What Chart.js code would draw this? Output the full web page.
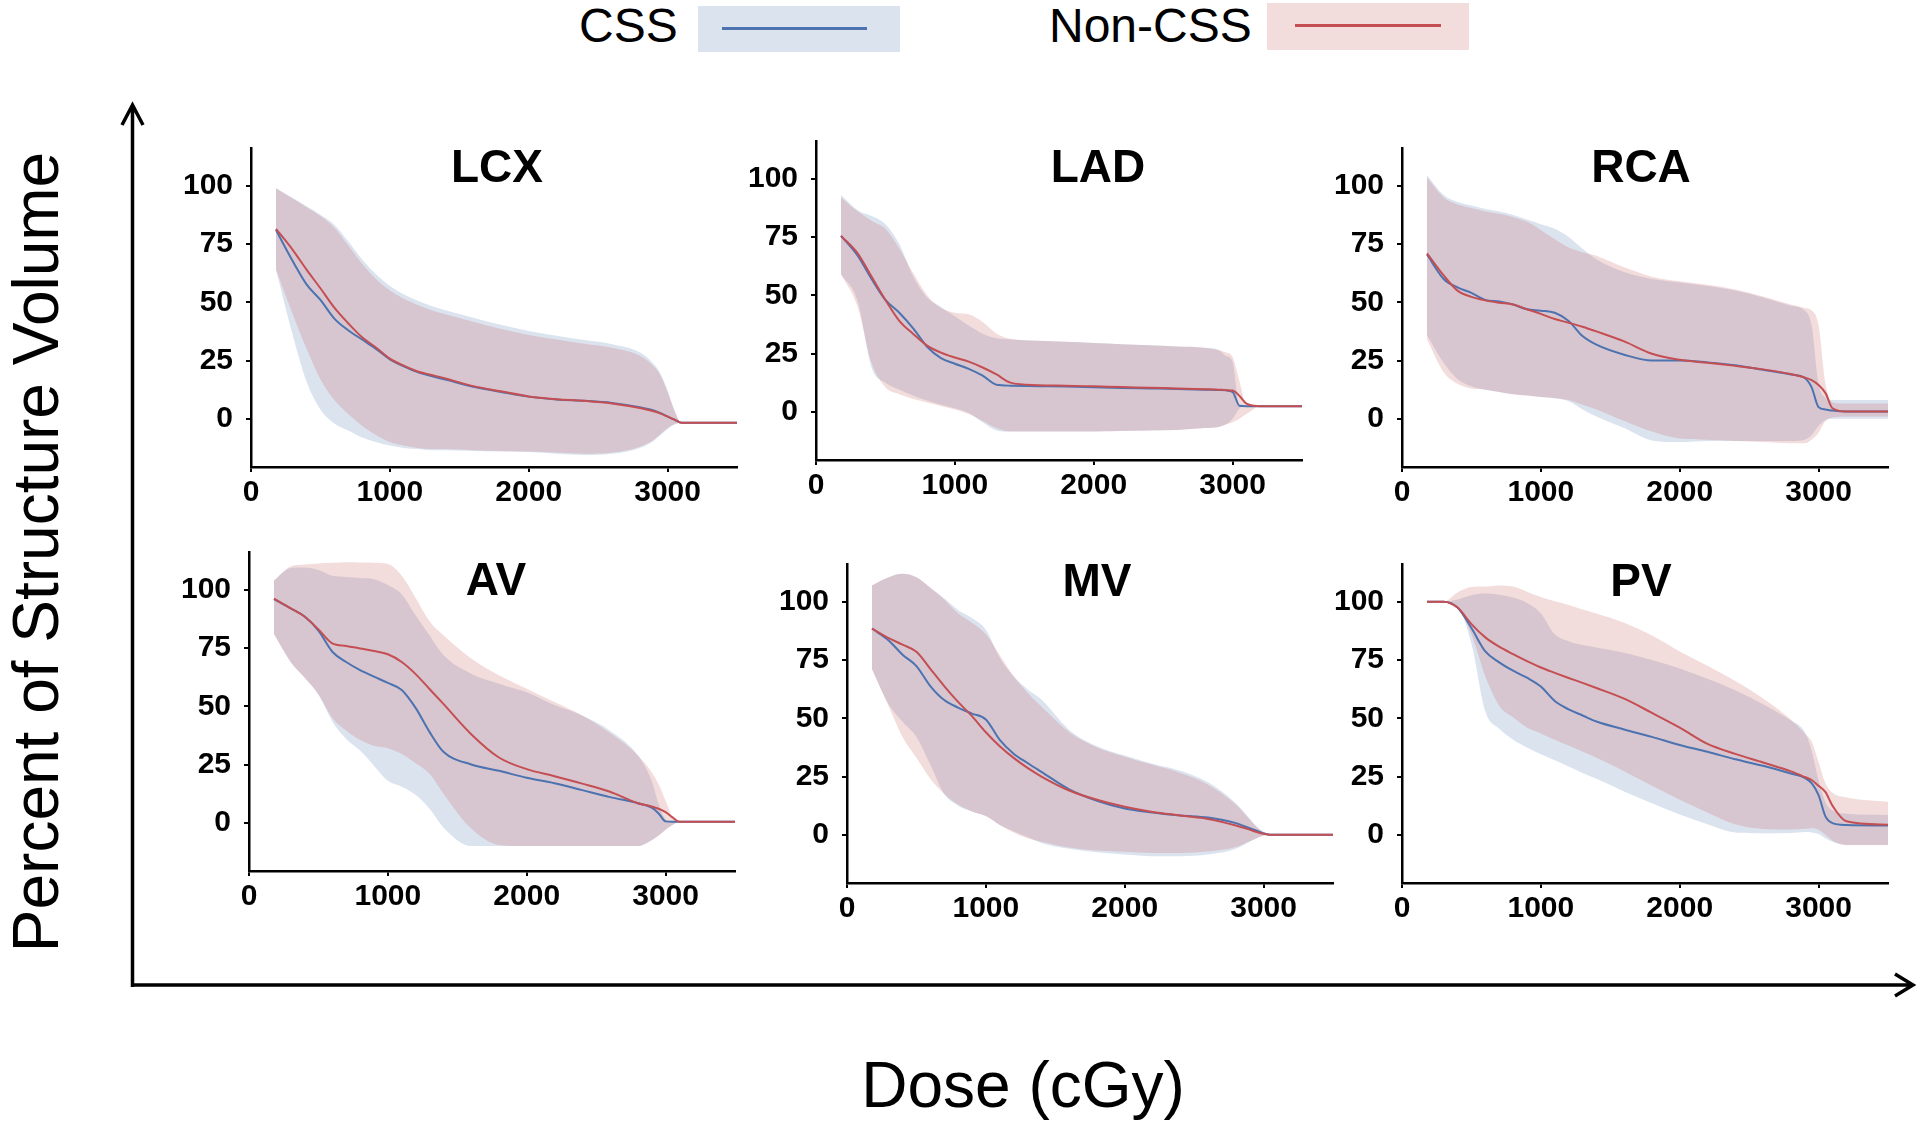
<!DOCTYPE html>
<html>
<head>
<meta charset="utf-8">
<script src="https://cdn.jsdelivr.net/npm/chart.js@4.4.0/dist/chart.umd.min.js"></script>
<style>
  body { margin: 0; width: 1920px; height: 1130px; background: #fff; position: relative; overflow: hidden; font-family: "Liberation Sans", Arial, sans-serif; }
  .panel { position: absolute; }
  .ttl { position: absolute; width: 300px; text-align: center; font: bold 46px "Liberation Sans", Arial, sans-serif; line-height: 46px; color: #000; }
  .lgtext { position: absolute; font-size: 48px; line-height: 48px; color: #000; }
  .lgbox { position: absolute; }
  .lgline { position: absolute; height: 3px; }
  #ylab { position: absolute; width: 1000px; height: 64px; line-height: 64px; font-size: 64px; text-align: center; transform: rotate(-90deg); }
  #xlab { position: absolute; width: 1000px; line-height: 64px; font-size: 64px; text-align: center; }
</style>
</head>
<body>

<svg width="1920" height="1130" style="position:absolute;left:0;top:0">
  <path d="M132.5 987 V106 M122 125 L132.5 105 L143 125" stroke="#000" stroke-width="3.5" fill="none"/>
  <path d="M131 985 H1911 M1895 974 L1913 985 L1895 996" stroke="#000" stroke-width="3.5" fill="none"/>
</svg>

<div class="lgtext" style="left:579px;top:2px">CSS</div>
<div class="lgbox" style="left:698px;top:6px;width:202px;height:46px;background:rgb(219,227,239)"></div>
<div class="lgline" style="left:722px;top:27px;width:145px;background:#4C72B0"></div>
<div class="lgtext" style="left:1049px;top:2px">Non-CSS</div>
<div class="lgbox" style="left:1267px;top:3px;width:202px;height:47px;background:rgb(243,220,220)"></div>
<div class="lgline" style="left:1295px;top:24px;width:146px;background:#C44E52"></div>

<div id="ylab" style="left:-463.7px;top:519.6px">Percent of Structure Volume</div>
<div id="xlab" style="left:523px;top:1053px">Dose (cGy)</div>

<script>
// shared dose grid (cGy)
const dose = [180, 300, 400, 500, 600, 700, 800, 900, 1000, 1100, 1200, 1300, 1400, 1600, 1800, 2000, 2200, 2400, 2600, 2800, 2900, 2950, 3000, 3050, 3100, 3200, 3500];
const doseTicks = [0, 1000, 2000, 3000];
const volumeTicks = [0, 25, 50, 75, 100];

// LCX
const lcxCssMean = [81, 67.7, 57.7, 51, 43, 38, 34, 30, 25.5, 22.5, 20, 18.3, 16.8, 13.7, 11.5, 9.5, 8.3, 7.7, 6.8, 5, 3.6, 2.4, 1, -0.4, -1.7, -1.7, -1.7];
const lcxCssLow = [64, 36, 16, 4, -2, -5, -8, -10, -11.5, -12.5, -13, -13.5, -13.5, -13.8, -14, -14.3, -15, -15.5, -15, -12.5, -9.5, -7, -4.5, -2.5, -1.7, -1.7, -1.7];
const lcxCssHigh = [99, 94.7, 91.2, 87.6, 83.3, 76.2, 68.4, 62, 57, 53.4, 50.6, 48.4, 46.6, 43.4, 40.3, 37.7, 35.6, 33.8, 32, 28.5, 23.5, 19.2, 12.1, 3.6, -1.7, -1.7, -1.7];
const lcxNonMean = [81.5, 72.5, 64, 56, 47.7, 41, 35, 30.6, 25.8, 22.8, 20.3, 18.8, 17.3, 14, 11.8, 9.6, 8.4, 7.7, 6.6, 4.6, 3.2, 2.2, 0.9, -0.4, -1.7, -1.7, -1.7];
const lcxNonLow = [64, 45, 30, 17, 8, 2, -3, -7, -10, -11.5, -12.5, -13, -13, -13.5, -13.8, -14, -14.5, -15, -14.5, -12, -9, -6.5, -4, -2.3, -1.7, -1.7, -1.7];
const lcxNonHigh = [98.8, 94.5, 90.8, 87, 82, 74.5, 66.5, 60, 55, 51.5, 48.8, 46.6, 44.8, 41.6, 38.5, 36, 34, 32.2, 30.5, 27, 22.5, 18.5, 11.5, 3.4, -1.7, -1.7, -1.7];

// LAD
const ladCssMean = [75.5, 67, 57, 48, 42.5, 35.8, 27.9, 23, 20.6, 18.4, 15.5, 11.6, 11.2, 11, 10.8, 10.5, 10.2, 10, 9.8, 9.5, 9.3, 9.2, 8.5, 2.6, 2.4, 2.4, 2.4];
const ladCssLow = [59, 47.5, 19, 12.5, 9.5, 7, 4.8, 3, 1.5, -0.5, -4.5, -8, -8.5, -8.5, -8.5, -8.5, -8.3, -8, -7.8, -7, -6.5, -5.5, -3, 1.4, 2.4, 2.4, 2.4];
const ladCssHigh = [93, 86.5, 84, 80.5, 72, 58, 49, 45, 41, 37, 33.5, 31.5, 31, 30.5, 30, 29.5, 29, 28.5, 28, 27.5, 26.5, 24, 21.5, 2.4, 2.4, 2.4, 2.4];
const ladNonMean = [75.5, 68, 58, 48, 39, 33.4, 28.4, 25.4, 23.3, 21.5, 19, 16, 12.5, 11.4, 11.2, 10.9, 10.6, 10.3, 10, 9.7, 9.5, 9.3, 9.1, 6.8, 3.5, 2.4, 2.4];
const ladNonLow = [59, 45, 21, 10.5, 7.5, 5.5, 4, 2.5, 1, -1, -4, -7, -8.5, -8.5, -8.5, -8.5, -8.3, -8, -7.8, -7, -6.5, -5.5, -4.5, -3, -1, 2.4, 2.4];
const ladNonHigh = [92, 86, 82, 78.5, 70, 59.5, 50, 44.5, 42.5, 41.8, 38.5, 33.5, 31.3, 30.5, 30, 29.5, 29, 28.5, 28, 27.5, 26.5, 25.5, 23.5, 13, 3, 2.4, 2.4];

// RCA
const rcaCssMean = [70.5, 60, 56.4, 54, 51, 50.3, 49, 47, 46.4, 45.5, 42, 35.5, 31.8, 27.5, 25, 25, 24.2, 23, 21, 19, 17.5, 13.5, 5, 4, 3.5, 3.1, 3.1];
const rcaCssLow = [36, 24, 17, 14, 12.5, 11.5, 10.5, 10, 9.3, 8.8, 7.5, 4, 1, -4, -9.3, -10, -9.5, -9.5, -9.5, -9.5, -9, -7, -3, -0.5, 0, 0, 0];
const rcaCssHigh = [104.5, 96, 93, 91.5, 90, 89, 87.5, 85.5, 83.5, 81.5, 78, 73, 68.5, 63, 60, 58.5, 57, 55, 52, 48.5, 46.5, 40, 15, 9, 8, 8, 8];
const rcaNonMean = [71, 61.5, 55, 52.3, 50.8, 49.8, 49, 47, 45, 42.8, 41.2, 39.5, 37.5, 33.2, 27.9, 25.3, 24, 22.7, 21.2, 19.2, 17.7, 16.6, 14.5, 11, 4.5, 3.1, 3.1];
const rcaNonLow = [34, 20, 15, 13, 12.5, 11.5, 10.5, 10, 9.3, 8.8, 8, 6, 4, -1, -5.5, -8.5, -9, -9.5, -10, -10.5, -10.5, -9, -6, -1, 0.5, 1, 1];
const rcaNonHigh = [103.5, 95, 92, 90.5, 89, 88, 86.5, 84.5, 81, 77, 73.5, 71.5, 70, 65, 61, 59, 57.5, 55.5, 52.5, 49, 47.5, 46.5, 40, 15, 7, 6.5, 6.5];

// AV
const avCssMean = [96, 92, 88.5, 82.5, 73.4, 69, 65.5, 62.7, 60, 57, 49.3, 39, 30.5, 25, 22.3, 19.3, 17, 14, 11, 8.4, 6.5, 4, 0.6, 0.4, 0.4, 0.4, 0.4];
const avCssLow = [81, 69, 62.3, 55, 43.5, 36, 31, 24.5, 18, 15.5, 12, 6, -2, -10, -10, -10, -10, -10, -10, -10, -7.5, -5.5, -3, -1, 0.4, 0.4, 0.4];
const avCssHigh = [104, 109.3, 109.6, 108.5, 106, 105.5, 105, 104.5, 102, 98, 89, 80.5, 72, 64, 59.7, 56, 50.5, 46, 39.5, 29, 18, 8, 1.5, 0.4, 0.4, 0.4, 0.4];
const avNonMean = [96.2, 92, 88.5, 83, 77, 75.9, 74.8, 73.7, 72.3, 69, 63.8, 57.4, 51, 38, 28, 23, 20, 16.8, 13.3, 8.4, 7, 6, 4.6, 2.3, 0.4, 0.4, 0.4];
const avNonLow = [81, 69, 62.3, 55, 45, 39.5, 35.5, 33, 32, 29.5, 25.5, 21, 12.5, -2.5, -9.5, -10, -10, -10, -10, -10, -7.5, -5.5, -3, -1, 0.4, 0.4, 0.4];
const avNonHigh = [104, 110, 110.8, 111.3, 111.6, 111.8, 111.7, 111.6, 111, 106, 96.5, 86.5, 80.5, 70.5, 63.3, 57.5, 51.8, 46, 38.5, 29, 21.7, 16.5, 9.5, 2.5, 0.4, 0.4, 0.4];

// MV
const mvCssMean = [88.5, 83.4, 77.3, 72.4, 63.8, 57.8, 54.6, 52, 49.5, 40.7, 34.8, 30.8, 27, 19.5, 14.6, 11.3, 9.6, 8.3, 7.4, 5, 2.8, 1.7, 0.6, 0, 0, 0, 0];
const mvCssLow = [71, 56, 48.5, 42, 30, 17.5, 12.5, 10, 8, 4.2, 1.5, -1, -3.5, -6, -7.5, -8.5, -9.2, -9.2, -8.5, -6, -3, -1.5, -0.3, 0, 0, 0, 0];
const mvCssHigh = [107, 110.5, 112, 110.5, 106, 101.5, 96.5, 93, 88, 76, 68, 62.5, 58, 45, 38, 34, 30.5, 27.5, 22.5, 13.5, 7, 3.5, 1.3, 0, 0, 0, 0];
const mvNonMean = [88.5, 84.4, 81.6, 78.5, 71.2, 63.8, 57, 50.9, 44, 38, 33, 28.7, 25, 19, 15, 12, 9.8, 8.3, 6.8, 4, 2.2, 1.2, 0.4, 0, 0, 0, 0];
const mvNonLow = [71, 55, 42, 33, 24, 17.5, 13, 10, 8, 4.2, 1, -1.5, -3, -5.5, -6.8, -7.3, -7.8, -7.8, -7.2, -5.3, -2.8, -1.5, -0.3, 0, 0, 0, 0];
const mvNonHigh = [107, 110.5, 112, 110.5, 106, 101, 95, 91, 86, 77, 68, 61, 55, 44, 37.5, 33.5, 30, 26.5, 21.5, 13, 6.5, 3.3, 1, 0, 0, 0, 0];

// PV
const pvCssMean = [100, 100, 97.5, 88.7, 78.7, 74, 70.4, 67.4, 63.6, 57.4, 53.8, 51.2, 48.6, 45.2, 42, 38.5, 35.6, 32.4, 29.6, 26.3, 24.4, 22.2, 17, 7.8, 5, 4.2, 4];
const pvCssLow = [100, 100, 97.9, 82, 53, 45.5, 40.8, 37.5, 34.5, 32, 29.3, 26.5, 24, 18.6, 13.5, 8.7, 4.5, 1, 0.7, 0.8, 1.2, 1, 0.3, -1.5, -3, -4.3, -4.3];
const pvCssHigh = [100, 100, 101, 102.8, 103.5, 103, 101.8, 99.5, 95, 86, 83, 81.4, 80.4, 78.1, 75, 71.4, 67, 62, 56, 49, 44.2, 36, 23.5, 14, 10.5, 9, 8.5];
const pvNonMean = [100, 100, 97.5, 90.4, 84.7, 80.7, 77.5, 74.5, 71.8, 69.5, 67.3, 65.2, 63, 58.4, 52.3, 46, 39, 34.7, 31, 27.2, 24.8, 23.5, 21, 18.3, 12.5, 5.8, 4.3];
const pvNonLow = [100, 100, 97.9, 86, 68, 55.4, 50.4, 46, 43.5, 40.8, 38.3, 35.7, 33, 27.3, 21, 15, 9.6, 4.5, 2.5, 2.3, 2.6, 2.8, 2.2, 0, -2.5, -4.5, -4.5];
const pvNonHigh = [100, 100, 104, 106.3, 106.5, 107, 106.5, 104.3, 102, 100.2, 98.6, 96.7, 95, 91, 85.5, 78.7, 72.5, 66, 58.5, 49.5, 43.5, 40, 31.2, 22, 18, 16, 14.2];

const panels = [
    { name: 'LCX', css: [lcxCssMean, lcxCssLow, lcxCssHigh], non: [lcxNonMean, lcxNonLow, lcxNonHigh] },
    { name: 'LAD', css: [ladCssMean, ladCssLow, ladCssHigh], non: [ladNonMean, ladNonLow, ladNonHigh] },
    { name: 'RCA', css: [rcaCssMean, rcaCssLow, rcaCssHigh], non: [rcaNonMean, rcaNonLow, rcaNonHigh] },
    { name: 'AV', css: [avCssMean, avCssLow, avCssHigh], non: [avNonMean, avNonLow, avNonHigh] },
    { name: 'MV', css: [mvCssMean, mvCssLow, mvCssHigh], non: [mvNonMean, mvNonLow, mvNonHigh] },
    { name: 'PV', css: [pvCssMean, pvCssLow, pvCssHigh], non: [pvNonMean, pvNonLow, pvNonHigh] }
];

// where each plot area sits on the page (left, top of the chart area) and its title centre
const panelBoxes = [
    { left: 251, top: 146.7, tx: 497, ty: 165 },
    { left: 816, top: 140, tx: 1098, ty: 165 },
    { left: 1402, top: 146.7, tx: 1641, ty: 165 },
    { left: 249, top: 550.7, tx: 496, ty: 578 },
    { left: 847, top: 563.3, tx: 1097, ty: 579 },
    { left: 1402, top: 563.3, tx: 1641, ty: 579 }
];

const BLUE = '#4C72B0', RED = '#C44E52';
const BLUE_FILL = 'rgba(76,114,176,0.2)', RED_FILL = 'rgba(196,78,82,0.2)';
const Y_AXIS_W = 80, X_AXIS_H = 50, PAD_TOP = 30, PAD_RIGHT = 8;
const AREA_W = 486, AREA_H = 320;

const tickFont = { family: 'Liberation Sans', weight: 'bold', size: 30 };

function toPoints(values) {
    return dose.map((d, i) => ({ x: d, y: values[i] }));
}

panels.forEach((p, i) => {
    const box = panelBoxes[i];
    const wrap = document.createElement('div');
    wrap.className = 'panel';
    wrap.style.left = (box.left - Y_AXIS_W) + 'px';
    wrap.style.top = (box.top - PAD_TOP) + 'px';
    const canvas = document.createElement('canvas');
    canvas.width = Y_AXIS_W + AREA_W + PAD_RIGHT;
    canvas.height = PAD_TOP + AREA_H + X_AXIS_H;
    wrap.appendChild(canvas);
    document.body.appendChild(wrap);

    const title = document.createElement('div');
    title.className = 'ttl';
    title.textContent = p.name;
    title.style.left = (box.tx - 150) + 'px';
    title.style.top = (box.ty - 22) + 'px';
    document.body.appendChild(title);

    const line = { pointRadius: 0, cubicInterpolationMode: 'monotone', fill: false };
    const edge = { pointRadius: 0, cubicInterpolationMode: 'monotone', borderWidth: 0, borderColor: 'transparent' };

    new Chart(canvas, {
        type: 'line',
        data: {
            datasets: [
                { ...line, label: 'Non-CSS', data: toPoints(p.non[0]), borderColor: RED, borderWidth: 2, order: 1 },
                { ...line, label: 'CSS', data: toPoints(p.css[0]), borderColor: BLUE, borderWidth: 2, order: 2 },
                { ...edge, data: toPoints(p.non[1]), fill: false, order: 3 },
                { ...edge, data: toPoints(p.non[2]), fill: 2, backgroundColor: RED_FILL, order: 4 },
                { ...edge, data: toPoints(p.css[1]), fill: false, order: 5 },
                { ...edge, data: toPoints(p.css[2]), fill: 4, backgroundColor: BLUE_FILL, order: 6 }
            ]
        },
        options: {
            responsive: false,
            animation: false,
            events: [],
            layout: { padding: { top: PAD_TOP, right: PAD_RIGHT, left: 0, bottom: 0 } },
            plugins: { legend: { display: false }, tooltip: { enabled: false } },
            scales: {
                x: {
                    type: 'linear', min: 0, max: 3500,
                    afterBuildTicks: s => { s.ticks = doseTicks.map(v => ({ value: v })); },
                    afterFit: s => { s.height = X_AXIS_H; },
                    grid: { display: true, drawOnChartArea: false, drawTicks: true, tickLength: 5, color: '#000', lineWidth: 2 },
                    border: { display: true, color: '#000', width: 2.5 },
                    ticks: { color: '#000', font: tickFont, padding: 3, maxRotation: 0, autoSkip: false, callback: v => String(v) }
                },
                y: {
                    type: 'linear', min: -20.7, max: 116.2,
                    afterBuildTicks: s => { s.ticks = volumeTicks.map(v => ({ value: v })); },
                    afterFit: s => { s.width = Y_AXIS_W; },
                    grid: { display: true, drawOnChartArea: false, drawTicks: true, tickLength: 5, color: '#000', lineWidth: 2 },
                    border: { display: true, color: '#000', width: 2.5 },
                    ticks: { color: '#000', font: tickFont, padding: 13, autoSkip: false, callback: v => String(v) }
                }
            }
        }
    });
});
</script>
</body>
</html>
